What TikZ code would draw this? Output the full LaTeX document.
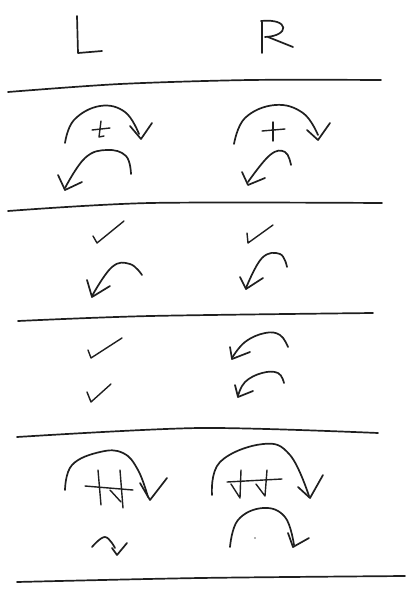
\documentclass[tikz,border=0pt]{standalone}
\begin{document}
\begin{tikzpicture}[x=1pt,y=-1pt,
  ink/.style={line width=1.7pt, black!88, line cap=round, line join=round},
  thin ink/.style={ink, line width=1.4pt}]
\useasboundingbox (0,0) rectangle (410,592);
% headers
\draw[ink] (77,16) -- (78,53) -- (102,51);
\draw[ink] (262,22) -- (262,53);
\draw[ink] (261,21) .. controls (290,18) and (290,36) .. (265,37);
\draw[ink] (268,37) -- (293,47);
% separator lines
\draw[ink] plot[smooth] coordinates {(8,92) (120,84) (250,80) (381,80)};
\draw[ink] plot[smooth] coordinates {(8,211) (150,203) (382,203)};
\draw[ink] plot[smooth] coordinates {(18,321) (150,316) (373,313)};
\draw[ink] plot[smooth] coordinates {(17,437) (200,428) (378,433)};
\draw[ink] plot[smooth] coordinates {(17,582) (200,578) (405,576)};
% section 1 left
\draw[ink] plot[smooth, tension=0.7] coordinates {(65,143) (74,120) (100,106) (125,112) (139,134)};
\draw[ink] (130,126) -- (141,139) -- (152,123);
\draw[thin ink] (92,130) -- (110,128);
\draw[thin ink] (101,121) -- (99,137) -- (104,136);
\draw[ink] plot[smooth, tension=0.7] coordinates {(131,174) (126,156) (107,150) (85,158) (65,188)};
\draw[ink] (58,175) -- (65,190) -- (82,182);
% section 1 right
\draw[ink] plot[smooth, tension=0.7] coordinates {(234,144) (245,118) (275,105) (303,113) (318,135)};
\draw[ink] (307,130) -- (318,140) -- (330,123);
\draw[thin ink] (262,131) -- (285,129);
\draw[thin ink] (273,122) -- (273,141);
\draw[ink] plot[smooth, tension=0.7] coordinates {(291,165) (285,152) (270,155) (248,182)};
\draw[ink] (242,172) -- (248,185) -- (265,178);
% section 2 left
\draw[thin ink] (93,236) -- (97,243) -- (124,221);
\draw[ink] plot[smooth, tension=0.7] coordinates {(142,275) (130,264) (112,267) (92,296)};
\draw[ink] (87,280) -- (92,297) -- (110,286);
% section 2 right
\draw[thin ink] (247,233) -- (248,243) -- (273,225);
\draw[ink] plot[smooth, tension=0.7] coordinates {(287,267) (280,254) (262,258) (246,288)};
\draw[ink] (240,277) -- (246,289) -- (263,278);
% section 3 left
\draw[thin ink] (88,350) -- (91,358) -- (122,338);
\draw[thin ink] (87,392) -- (91,402) -- (111,384);
% section 3 right
\draw[ink] plot[smooth, tension=0.7] coordinates {(288,347) (280,335) (265,333) (245,342) (232,358)};
\draw[ink] (230,347) -- (232,359) -- (250,352);
\draw[ink] plot[smooth, tension=0.7] coordinates {(284,383) (278,373) (262,373) (245,382) (238,396)};
\draw[ink] (235,385) -- (238,397) -- (253,391);
% section 4 left
\draw[ink] plot[smooth, tension=0.7] coordinates {(65,490) (72,465) (100,452) (123,453) (138,470) (148,497)};
\draw[ink] (140,483) -- (150,500) -- (167,478);
\draw[thin ink] (85,486) -- (133,490);
\draw[thin ink] (98,470) -- (101,505);
\draw[thin ink] (120,470) -- (123,508);
\draw[thin ink] (110,490) -- (121,502);
\draw[ink] plot[smooth, tension=0.7] coordinates {(92,547) (105,537) (115,548)};
\draw[ink] (112,548) -- (117,555) -- (127,543);
% section 4 right
\draw[ink] plot[smooth, tension=0.7] coordinates {(212,495) (220,462) (263,444) (290,455) (309,496)};
\draw[ink] (298,487) -- (310,498) -- (323,475);
\draw[thin ink] (227,482) -- (282,479);
\draw[thin ink] (231,484) -- (240,498) -- (241,470);
\draw[thin ink] (256,484) -- (265,496) -- (267,470);
\draw[ink] plot[smooth, tension=0.7] coordinates {(230,547) (238,520) (263,508) (285,517) (294,545)};
\draw[ink] (288,533) -- (293,547) -- (309,538);
\fill[black!60] (255,538) circle (0.8);
\end{tikzpicture}
\end{document}
